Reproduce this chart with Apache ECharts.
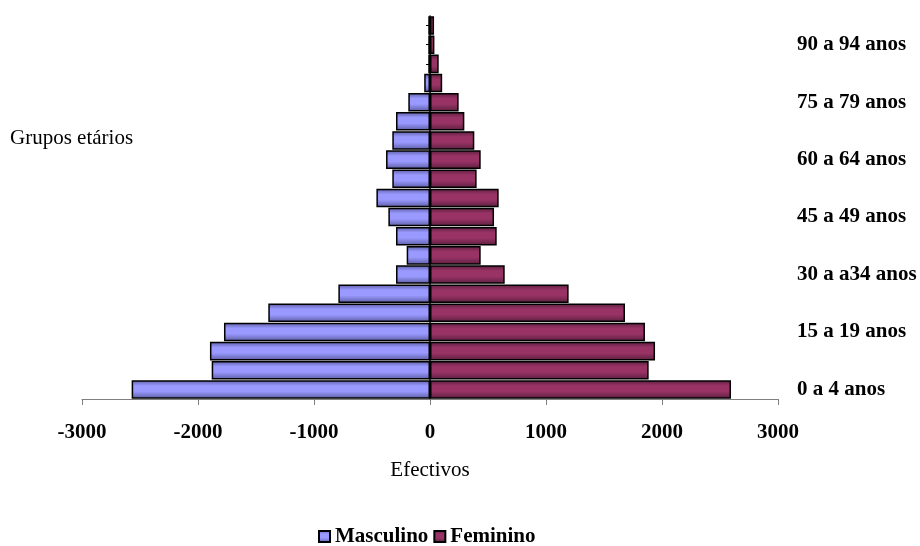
<!DOCTYPE html>
<html>
<head>
<meta charset="utf-8">
<script src="https://cdn.jsdelivr.net/npm/echarts@6/dist/echarts.min.js"></script>
<style>
html,body{margin:0;padding:0;background:#fff;}
#chart{width:920px;height:546px;}
</style>
</head>
<body>
<div id="chart"></div>
<script>
var categories = ['0 a 4 anos','5 a 9 anos','10 a 14 anos','15 a 19 anos','20 a 24 anos','25 a 29 anos','30 a a34 anos','35 a 39 anos','40 a 44 anos','45 a 49 anos','50 a 54 anos','55 a 59 anos','60 a 64 anos','65 a 69 anos','70 a 74 anos','75 a 79 anos','80 a 84 anos','85 a 89 anos','90 a 94 anos','95 e mais anos'];
var masculino = [-2572,-1882,-1897,-1776,-1394,-790,-293,-201,-293,-359,-462,-325,-379,-325,-293,-187,-50,-15,-15,-15];
var feminino = [2595,1885,1940,1853,1681,1195,644,437,575,552,592,402,437,382,296,247,105,75,38,35];
var xTicks = {min:-3000, max:3000, interval:1000};

var FONT = '"Liberation Serif","Times New Roman",serif';
function grad(edge, mid){
  return new echarts.graphic.LinearGradient(0,0,0,1,[
    {offset:0,color:edge},{offset:0.3,color:mid},{offset:0.6,color:mid},{offset:1,color:edge}
  ]);
}
var chart = echarts.init(document.getElementById('chart'), null, {renderer:'canvas'});
chart.setOption({
  animation:false,
  backgroundColor:'#ffffff',
  textStyle:{fontFamily:FONT},
  grid:{left:82,right:142,top:16,bottom:147,containLabel:false},
  graphic:[{type:'text',left:10,top:128,style:{text:'Grupos etários',font:'21px '+FONT,fill:'#000'}}],
  legend:{
    top:526,left:318,padding:0,itemWidth:11,itemHeight:11,itemGap:5,
    icon:'rect',
    textStyle:{fontFamily:FONT,fontSize:21,fontWeight:'bold',color:'#000'},
    data:['Masculino','Feminino']
  },
  xAxis:{
    type:'value',min:xTicks.min,max:xTicks.max,interval:xTicks.interval,
    name:'Efectivos',nameLocation:'middle',nameGap:61,
    nameTextStyle:{fontFamily:FONT,fontSize:21,color:'#000'},
    axisLine:{show:true,onZero:false,lineStyle:{color:'#808080',width:1}},
    axisTick:{show:true,length:6,lineStyle:{color:'#808080'}},
    axisLabel:{margin:23,fontFamily:FONT,fontSize:21,fontWeight:'bold',color:'#000',
      formatter:function(v){return String(v);}},
    splitLine:{show:false}
  },
  yAxis:[{
    type:'category',data:categories,
    axisLine:{show:true,onZero:true,lineStyle:{color:'#000',width:1.5}},
    axisTick:{show:true,alignWithLabel:true,length:4,lineStyle:{color:'#000'}},
    axisLabel:{show:false}
  },{
    type:'category',data:categories,position:'right',
    axisLine:{show:false,onZero:false},
    axisTick:{show:false},
    axisLabel:{show:true,interval:2,margin:19,fontFamily:FONT,fontSize:21,fontWeight:'bold',color:'#000'}
  }],
  series:[{
    name:'Masculino',type:'bar',stack:'t',data:masculino,barCategoryGap:'3%',
    itemStyle:{color:grad('#5c5ca3','#9999ff'),borderColor:'#000',borderWidth:1.5}
  },{
    name:'Feminino',type:'bar',stack:'t',data:feminino,barCategoryGap:'3%',
    itemStyle:{color:grad('#5a1f3d','#993366'),borderColor:'#000',borderWidth:1.5}
  }]
});
</script>
</body>
</html>
